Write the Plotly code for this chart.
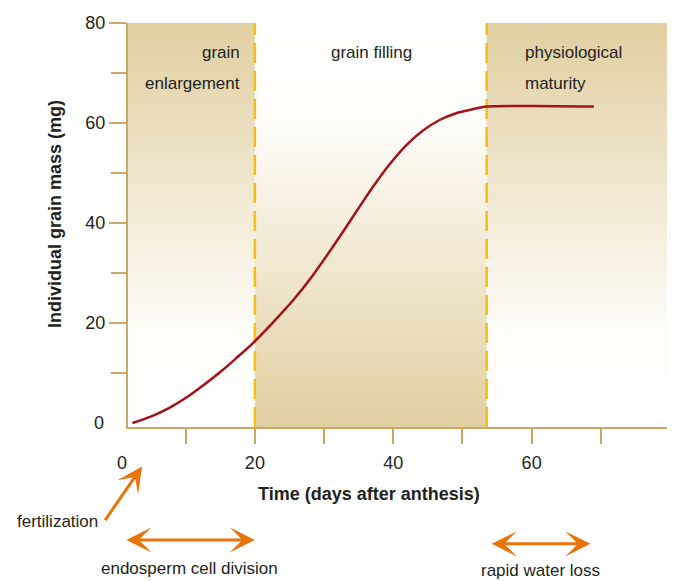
import plotly.graph_objects as go

# ---- data ----
days = [2.3, 5.3, 7.7, 10.1, 12.5, 15.0, 17.4, 19.8, 23.4, 25.8, 28.2, 30.6, 33.0,
        35.0, 37.1, 39.5, 41.9, 44.3, 46.7, 49.2, 51.6, 53.5, 60, 69]
mass = [0.0, 1.5, 3.1, 5.1, 7.5, 10.2, 13.1, 16.1, 21.3, 25.0, 29.2, 33.9, 38.8,
        43.0, 47.3, 51.8, 55.6, 58.5, 60.6, 62.0, 62.8, 63.3, 63.4, 63.3]

phase_bounds = [20, 53.5]                 # days separating the three phases
x_tickvals = [10, 20, 30, 40, 50, 60, 70]
x_ticktext = ["", "20", "", "40", "", "60", ""]
y_tickvals = [20, 40, 60, 80]
y_minorvals = [10, 30, 50, 70]

fertilization_day = 3.7
endosperm_days = [1.2, 20]
water_loss_days = [54, 68.5]

# ---- styling ----
FONT = "Liberation Sans, Arial, sans-serif"
TXT = "#231f20"
GOLD = "#c9a765"
TAN = "#e1cfa1"
DASH = "#f2bf12"
CURVE = "#a3121b"
ORANGE = "#e8740c"
FS = 17
TICKFS = 18

X0, X1 = 1.66, 80.0
Y0, Y1 = -0.79, 80.0

fig = go.Figure()

# shaded phase panels with vertical gradients
fade_down = [[0, "#ffffff"], [0.25, "#fdfcf8"], [1, TAN]]   # tan at top
fade_up = [[0, TAN], [0.75, "#fdfcf8"], [1, "#ffffff"]]     # tan at bottom
panels = [(X0, phase_bounds[0], fade_down),
          (phase_bounds[0], phase_bounds[1], fade_up),
          (phase_bounds[1], X1, fade_down)]
for a, b, cs in panels:
    fig.add_trace(go.Scatter(
        x=[a, b, b, a, a], y=[Y0, Y0, Y1, Y1, Y0], mode="lines",
        line=dict(width=0), fill="toself",
        fillgradient=dict(type="vertical", colorscale=cs, start=Y0, stop=Y1),
        hoverinfo="skip"))

# dashed phase boundaries
for b in phase_bounds:
    fig.add_trace(go.Scatter(x=[b, b], y=[Y0, Y1], mode="lines",
                             line=dict(color=DASH, width=2.5, dash="20px,8px"),
                             hoverinfo="skip"))

# grain mass curve
fig.add_trace(go.Scatter(x=days, y=mass, mode="lines",
                         line=dict(color=CURVE, width=2.5, shape="spline", smoothing=0.8)))

ann = []
def txt(text, x, y, xref="x", yref="y", xanchor="center", yanchor="middle",
        size=FS, bold=False, angle=0):
    t = f"<b>{text}</b>" if bold else text
    ann.append(dict(text=t, x=x, y=y, xref=xref, yref=yref, xanchor=xanchor,
                    yanchor=yanchor, showarrow=False, textangle=angle,
                    font=dict(family=FONT, size=size, color=TXT)))

# phase labels
txt("grain", 18.1, 74.1, xanchor="right")
txt("enlargement", 18.1, 67.9, xanchor="right")
txt("grain filling", 36.8, 74.1)
txt("physiological", 58.7, 74.1, xanchor="left")
txt("maturity", 58.7, 67.9, xanchor="left")

# zero tick labels
txt("0", -0.0406, 0, xref="paper", xanchor="right", size=TICKFS)
txt("0", -0.0111, -0.0882, xref="paper", yref="paper", size=TICKFS)

# axis titles
txt("Individual grain mass (mg)", -0.1347, 0.527, xref="paper", yref="paper",
    size=18, bold=True, angle=-90)
txt("Time (days after anthesis)", 0.4446, -0.1667, xref="paper", yref="paper",
    size=18, bold=True)

# fertilization arrow
ann.append(dict(text="", x=fertilization_day, y=-0.098, xref="x", yref="paper",
                ax=-38, ay=55, showarrow=True, arrowhead=3, arrowsize=1.4,
                arrowwidth=3, arrowcolor=ORANGE, standoff=0))
txt("fertilization", -0.0517, -0.2328, xref="paper", yref="paper", xanchor="right")

# double arrows
for rng, ypos, label, ylab in [(endosperm_days, -0.2794, "endosperm cell division", -0.3505),
                               (water_loss_days, -0.2892, "rapid water loss", -0.3554)]:
    ann.append(dict(text="", x=rng[1], y=ypos, xref="x", yref="paper",
                    ax=rng[0], axref="x", ay=0, showarrow=True, arrowhead=3,
                    startarrowhead=3, arrowside="end+start", arrowsize=1.4,
                    startarrowsize=1.4, arrowwidth=3, arrowcolor=ORANGE,
                    standoff=0, startstandoff=0))
    txt(label, (rng[0] + rng[1]) / 2, ylab, yref="paper")

# page has an 8px body margin: shrink the canvas so the plot area lands at
# x 128..670, y 19..427 of the window
fig.update_layout(
    width=667, height=573,
    margin=dict(l=120, r=5, t=11, b=154),
    plot_bgcolor="white", paper_bgcolor="white",
    showlegend=False, annotations=ann,
    font=dict(family=FONT, color=TXT),
)
fig.update_xaxes(range=[X0, X1], showgrid=False, zeroline=False,
                 showline=True, linecolor=GOLD, linewidth=2,
                 ticks="outside", ticklen=15, tickwidth=1.5, tickcolor=GOLD,
                 tickvals=x_tickvals, ticktext=x_ticktext,
                 tickfont=dict(family=FONT, size=TICKFS, color=TXT),
                 ticklabelstandoff=3)
fig.update_yaxes(range=[Y0, Y1], showgrid=False, zeroline=False,
                 showline=True, linecolor=GOLD, linewidth=2,
                 ticks="outside", ticklen=17, tickwidth=1.5, tickcolor=GOLD,
                 tickvals=y_tickvals,
                 tickfont=dict(family=FONT, size=TICKFS, color=TXT),
                 ticklabelstandoff=0,
                 minor=dict(tickvals=y_minorvals, ticks="outside", ticklen=15,
                            tickwidth=1.5, tickcolor=GOLD))

fig.write_html("out.html", config={"displayModeBar": False})
